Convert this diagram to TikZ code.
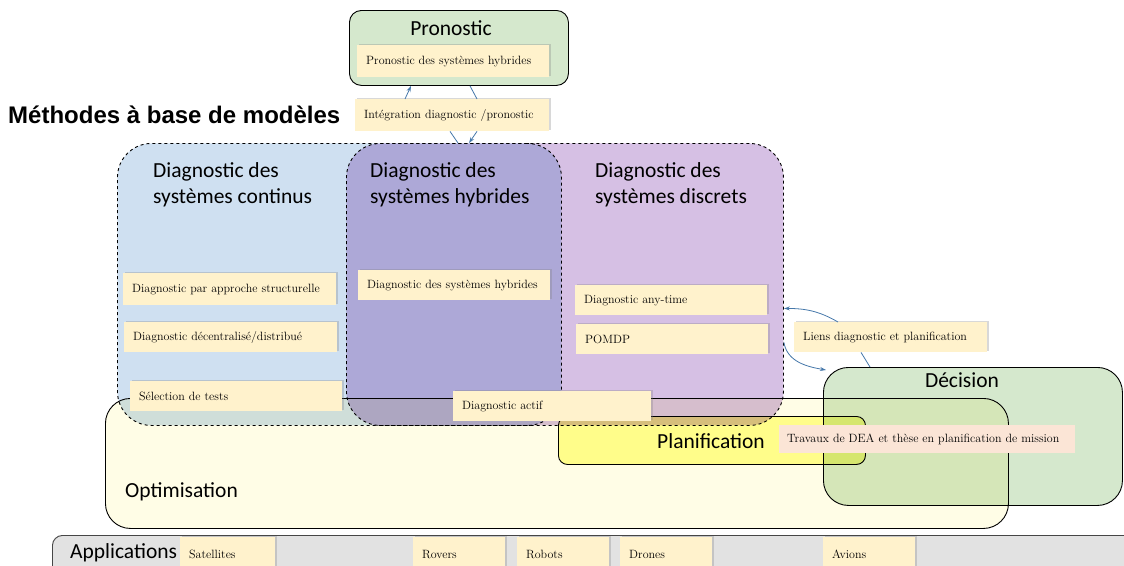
\documentclass[tikz,border=0pt]{standalone}
\usepackage{fontspec}
\newfontfamily\cali{Carlito}
\newfontfamily\headf{Liberation Sans}
\usetikzlibrary{arrows.meta,shadows}
\definecolor{creamfill}{RGB}{255,242,204}
\definecolor{bluefill}{RGB}{207,224,241}
\definecolor{purplefill}{RGB}{214,192,228}
\definecolor{greenfill}{RGB}{213,232,205}
\definecolor{optifill}{RGB}{255,253,230}
\definecolor{planfill}{RGB}{255,255,153}
\definecolor{pinkfill}{RGB}{251,229,214}
\definecolor{appfill}{RGB}{226,226,226}
\definecolor{linkblue}{RGB}{70,120,170}
\begin{document}
\begin{tikzpicture}[x=1pt,y=-1pt,
  zone/.style={rectangle,draw=black,line width=0.9pt,blend mode=multiply,anchor=north west,inner sep=0pt},
  dzone/.style={zone,dashed,rounded corners=34pt},
  title/.style={font=\cali\fontsize{21.5}{26}\selectfont,align=left,inner sep=0pt},
  note/.style={anchor=north west,fill=creamfill,inner xsep=9pt,inner ysep=0pt,minimum height=30pt,text width=#1,
    font=\fontsize{12}{14}\selectfont,drop shadow={shadow xshift=1.5pt,shadow yshift=1.5pt,opacity=0.3}},
  link/.style={draw=linkblue,line width=0.8pt},
  tip/.style={-{Stealth[length=6pt,width=4pt]}}]
\fill[white] (0,0) rectangle (1124,565);
\useasboundingbox (0,0) rectangle (1124,565);

\node[zone,rounded corners=12pt,fill=greenfill,minimum width=219pt,minimum height=75pt] (prono) at (349,10) {};
\node[title] (pronoT) at (451,28) {Pronostic};
\node[note=174pt,minimum height=32pt] (pronoH) at (357,45) {Pronostic des systèmes hybrides};
\node[note=176pt,minimum height=32pt] (integ) at (355,99) {Intégration diagnostic /pronostic};
\node[anchor=west,inner sep=0pt,font=\headf\bfseries\fontsize{24}{28}\selectfont] (meth) at (8,115) {Méthodes à base de modèles};

\node[dzone,fill=bluefill,minimum width=444pt,minimum height=282pt] (cont) at (117,143) {};
\node[dzone,fill=purplefill,minimum width=437pt,minimum height=282pt] (disc) at (346,143) {};
\node[zone,rounded corners=25pt,fill=optifill,minimum width=903pt,minimum height=130pt] (opti) at (105,398) {};
\node[zone,rounded corners=9pt,fill=planfill,minimum width=307pt,minimum height=48pt] (plan) at (558,416) {};
\node[zone,rounded corners=25pt,fill=greenfill,minimum width=299pt,minimum height=138pt] (deci) at (823,367) {};
\node[zone,draw=black!70,rounded corners=10pt,fill=appfill,minimum width=1100pt,minimum height=60pt] (apps) at (52,535) {};

\node[title,anchor=north west] (contT) at (153,162) {Diagnostic des\\systèmes continus};
\node[title,anchor=north west] (hybT) at (370,162) {Diagnostic des\\systèmes hybrides};
\node[title,anchor=north west] (discT) at (595,162) {Diagnostic des\\systèmes discrets};
\node[title] (planT) at (711,441) {Planification};
\node[title] (deciT) at (962,380) {Décision};
\node[title,anchor=west] (optiT) at (125,492) {Optimisation};
\node[title,anchor=west] (appsT) at (70,553) {Applications};

\node[note=195pt,minimum height=32pt] (struc) at (123,273) {Diagnostic par approche structurelle};
\node[note=195pt] (decen) at (124,322) {Diagnostic décentralisé/distribué};
\node[note=194pt] (tests) at (130,381) {Sélection de tests};
\node[note=174pt] (hybN) at (358,270) {Diagnostic des systèmes hybrides};
\node[note=174pt] (anyt) at (575,285) {Diagnostic any-time};
\node[note=174pt] (pomdp) at (576,324) {POMDP};
\node[note=180pt] (actif) at (453,391) {Diagnostic actif};
\node[note=175pt] (liens) at (794,322) {Liens diagnostic et planification};
\node[anchor=north west,fill=pinkfill,inner xsep=8pt,inner ysep=0pt,minimum height=28pt,text width=280pt,
  font=\fontsize{12}{14}\selectfont] (trav) at (779,425) {Travaux de DEA et thèse en planification de mission};

\node[note=77pt,minimum height=34pt] (sat) at (180,537) {Satellites};
\node[note=74pt,minimum height=34pt] (rov) at (413,537) {Rovers};
\node[note=74pt,minimum height=34pt] (rob) at (517,537) {Robots};
\node[note=74pt,minimum height=34pt] (dro) at (620,537) {Drones};
\node[note=74pt,minimum height=34pt] (avi) at (823,537) {Avions};

\draw[link,tip] ([xshift=50pt]integ.north west) -- ([xshift=62pt]prono.south west);
\draw[link] ([xshift=121pt]prono.south west) -- ([xshift=122pt]integ.north west);
\draw[link] ([xshift=95pt]integ.south west) -- ([xshift=112pt]disc.north west);
\draw[link,tip] ([xshift=122pt]integ.south west) -- ([xshift=123pt]disc.north west);

\draw[link,tip] ([xshift=44pt]liens.north west) to[out=150,in=0] ([yshift=-24pt]disc.east);
\draw[link,tip] ([yshift=-58pt]disc.east) to[out=-80,in=170] ([xshift=3pt,yshift=-3pt]deci.north west);
\draw[link] ([xshift=67pt]liens.south west) -- ([xshift=47pt]deci.north west);
\end{tikzpicture}
\end{document}
